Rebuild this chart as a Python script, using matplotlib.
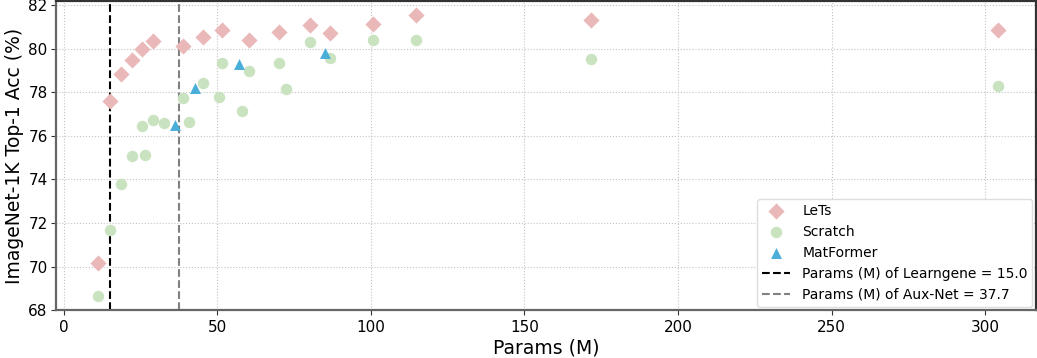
import matplotlib
matplotlib.use("Agg")
import matplotlib.pyplot as plt

lets_params = [11.3, 15.0, 18.5, 22.1, 25.6, 29.2, 38.9, 45.2, 51.5, 60.4, 70.1, 80.1, 86.6, 100.7, 114.8, 171.6, 304.2]
lets_acc = [70.17, 77.59, 78.86, 79.50, 79.99, 80.36, 80.12, 80.54, 80.88, 80.39, 80.77, 81.11, 80.74, 81.16, 81.58, 81.35, 80.85]

scratch_params = [11.3, 15.0, 18.5, 22.1, 26.4, 25.6, 29.2, 32.7, 38.9, 40.8, 45.2, 50.6, 51.5, 58.2, 60.4, 70.1, 72.4, 80.1, 86.6, 100.7, 114.8, 171.6, 304.2]
scratch_acc = [68.64, 71.70, 73.78, 75.07, 75.11, 76.46, 76.75, 76.60, 77.74, 76.63, 78.45, 77.78, 79.37, 77.16, 78.97, 79.37, 78.16, 80.30, 79.58, 80.42, 80.39, 79.52, 78.31]

mat_params = [36.2, 42.8, 57.2, 85.0]
mat_acc = [76.49, 78.20, 79.29, 79.83]

learngene_params = 15.0
auxnet_params = 37.7

fig, ax = plt.subplots(figsize=(10.37, 3.58), dpi=100)
fig.subplots_adjust(left=0.054, right=0.999, top=0.997, bottom=0.134)

ax.scatter(lets_params, lets_acc, marker='D', s=68, color='#ebb8ba', label='LeTs', zorder=3, linewidths=0)
ax.scatter(scratch_params, scratch_acc, marker='o', s=68, color='#c9e2bf', label='Scratch', zorder=3, linewidths=0)
ax.scatter(mat_params, mat_acc, marker='^', s=62, color='#4aaed9', label='MatFormer', zorder=4, linewidths=0)

ax.axvline(learngene_params, color='black', linestyle='--', linewidth=1.5,
           label=f'Params (M) of Learngene = {learngene_params}', zorder=2)
ax.axvline(auxnet_params, color='gray', linestyle='--', linewidth=1.5,
           label=f'Params (M) of Aux-Net = {auxnet_params}', zorder=2)

ax.set_xlim(-2.5, 316.5)
ax.set_ylim(68, 82.2)
ax.set_yticks([68, 70, 72, 74, 76, 78, 80, 82])
ax.set_xticks([0, 50, 100, 150, 200, 250, 300])
ax.tick_params(labelsize=11, colors='#333333', labelcolor='black')
ax.tick_params(axis='y', pad=2.5)
ax.grid(True, linestyle=':', color='#c4c4c4', linewidth=0.8, zorder=0)
ax.set_axisbelow(True)

for name, s in ax.spines.items():
    s.set_linewidth(1.6)
    s.set_color('#666666' if name in ('left', 'bottom') else '#333333')

ax.set_xlabel('Params (M)', fontsize=13.5, labelpad=3)
ax.set_ylabel('ImageNet-1K Top-1 Acc (%)', fontsize=13.5, labelpad=3)

ax.legend(loc='lower right', fontsize=10, framealpha=1, edgecolor='#dddddd',
          borderaxespad=0.25, handletextpad=0.9, borderpad=0.35)

fig.savefig('out.png', dpi=100)
